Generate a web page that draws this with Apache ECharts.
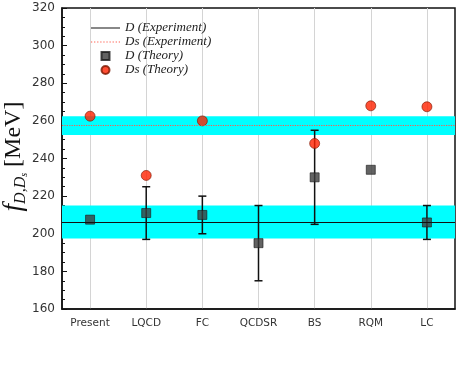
<!DOCTYPE html>
<html>
<head>
<meta charset="utf-8">
<script src="https://cdn.jsdelivr.net/npm/echarts@6/dist/echarts.min.js"></script>
<style>
  html, body { margin: 0; padding: 0; background: #fff; }
  #chart { width: 463px; height: 371px; }
</style>
</head>
<body>
<div id="chart"></div>
<script>
// values
const categories = ['Present', 'LQCD', 'FC', 'QCDSR', 'BS', 'RQM', 'LC']
const dTheory = [207.5, 211, 210, 195, 230, 234, 206]
const dErrLow = [null, 197, 200, 175, 205, null, 197]
const dErrHigh = [null, 225, 220, 215, 255, null, 215]
const dsTheory = [262.5, 231, 260, '-', 248, 268, 267.5]
const dExp = [206, 197.5, 215] // center, low, high
const dsExp = [257.5, 252.5, 262.5]
const yTicks = [160, 320, 20] // min, max, step

const errData = []
categories.forEach((c, i) => {
  if (dErrLow[i] != null) errData.push([i, dErrLow[i], dErrHigh[i]])
})

const serif = 'Liberation Serif'
const sans = 'DejaVu Sans'
const cyan = '#00ffff'

// legend icons (keep aspect only works for path:// icons)
const solidIcon = 'path://M0,0L29,0L29,1L0,1Z'
let dots = ''
for (let k = 0; k < 10; k++) dots += 'M' + (k * 3) + ',0h1.2v1.2h-1.2Z'
const dottedIcon = 'path://' + dots
const squareIcon = 'path://M0,0L10,0L10,10L0,10Z'

const chart = echarts.init(document.getElementById('chart'))

chart.setOption({
  animation: false,
  grid: {
    left: 62, right: 8, top: 8, bottom: 62,
    outerBoundsMode: 'none',
    containLabel: false,
    show: true, borderColor: '#111', borderWidth: 1.5, backgroundColor: 'transparent'
  },
  legend: {
    orient: 'vertical',
    left: 86,
    top: 16,
    itemWidth: 29,
    itemHeight: 8,
    itemGap: 0,
    data: [
      { name: 'D (Experiment)', icon: solidIcon },
      { name: 'Ds (Experiment)', icon: dottedIcon },
      { name: 'D (Theory)', icon: squareIcon },
      { name: 'Ds (Theory)', icon: 'circle' }
    ],
    textStyle: { fontFamily: serif, fontStyle: 'italic', fontSize: 13, lineHeight: 14, color: '#222' }
  },
  xAxis: {
    type: 'category',
    data: categories,
    axisLine: { lineStyle: { color: '#111', width: 1.5 } },
    axisTick: { inside: true, alignWithLabel: true, length: 6, lineStyle: { color: '#111', width: 1.2 } },
    axisLabel: { fontFamily: sans, fontSize: 10.5, color: '#333', margin: 9 },
    splitLine: { show: true, alignWithLabel: true, lineStyle: { color: '#d4d4d4', width: 1 } }
  },
  yAxis: {
    type: 'value',
    min: yTicks[0], max: yTicks[1], interval: yTicks[2],
    axisLine: { show: true, lineStyle: { color: '#111', width: 1.5 } },
    axisTick: { show: true, inside: true, length: 5, lineStyle: { color: '#111', width: 1 } },
    minorTick: { show: true, splitNumber: 4, length: 3, lineStyle: { color: '#111', width: 1 } },
    axisLabel: { fontFamily: sans, fontSize: 12, color: '#333', margin: 7 },
    splitLine: { show: false },
    name: '{f|f}{sub|D,D}{ss|s}{u| [MeV]}',
    nameLocation: 'middle',
    nameRotate: 90,
    nameGap: 33,
    nameMoveOverlap: false,
    nameTextStyle: {
      padding: [0, 0, 0, 4],
      rich: {
        f: { fontFamily: serif, fontStyle: 'italic', fontSize: 27, lineHeight: 30, color: '#111' },
        sub: { fontFamily: serif, fontStyle: 'italic', fontSize: 16, lineHeight: 16, padding: [14, 0, 0, 0], color: '#111', verticalAlign: 'bottom' },
        ss: { fontFamily: serif, fontStyle: 'italic', fontSize: 10, lineHeight: 10, padding: [21, 0, 0, 0], color: '#111', verticalAlign: 'bottom' },
        u: { fontFamily: serif, fontSize: 24, lineHeight: 30, color: '#111' }
      }
    }
  },
  series: [
    {
      name: 'D (Experiment)',
      type: 'line',
      data: [],
      symbol: 'none',
      itemStyle: { color: '#111' },
      lineStyle: { color: '#111', width: 1 },
      markArea: {
        silent: true,
        itemStyle: { color: cyan },
        data: [[{ yAxis: dExp[1] }, { yAxis: dExp[2] }]]
      },
      markLine: {
        silent: true,
        symbol: 'none',
        label: { show: false },
        lineStyle: { color: '#111', width: 1, type: 'solid' },
        data: [{ yAxis: dExp[0] }]
      }
    },
    {
      name: 'Ds (Experiment)',
      type: 'line',
      data: [],
      symbol: 'none',
      itemStyle: { color: '#ff5a4a' },
      lineStyle: { color: '#ff5a4a', width: 1.2, type: 'dotted' },
      markArea: {
        silent: true,
        itemStyle: { color: cyan },
        data: [[{ yAxis: dsExp[1] }, { yAxis: dsExp[2] }]]
      },
      markLine: {
        silent: true,
        symbol: 'none',
        label: { show: false },
        lineStyle: { color: '#ff5a4a', width: 1.2, type: 'dotted' },
        data: [{ yAxis: dsExp[0] }]
      }
    },
    {
      name: 'err',
      type: 'custom',
      data: errData,
      renderItem: (params, api) => {
        const x = api.value(0)
        const lo = api.coord([x, api.value(1)])
        const hi = api.coord([x, api.value(2)])
        const w = 4
        const style = { stroke: '#111', lineWidth: 1.5 }
        return {
          type: 'group',
          children: [
            { type: 'line', shape: { x1: lo[0], y1: lo[1], x2: hi[0], y2: hi[1] }, style },
            { type: 'line', shape: { x1: lo[0] - w, y1: lo[1], x2: lo[0] + w, y2: lo[1] }, style },
            { type: 'line', shape: { x1: hi[0] - w, y1: hi[1], x2: hi[0] + w, y2: hi[1] }, style }
          ]
        }
      }
    },
    {
      name: 'D (Theory)',
      type: 'scatter',
      data: dTheory,
      symbol: 'rect',
      symbolSize: 9,
      itemStyle: { color: '#3c3c3c', borderColor: '#1a1a1a', borderWidth: 0.8 }
    },
    {
      name: 'Ds (Theory)',
      type: 'scatter',
      data: dsTheory,
      symbol: 'circle',
      symbolSize: 10,
      itemStyle: { color: '#ff2200', borderColor: '#7a1800', borderWidth: 0.8 }
    }
  ]
})
</script>
</body>
</html>
